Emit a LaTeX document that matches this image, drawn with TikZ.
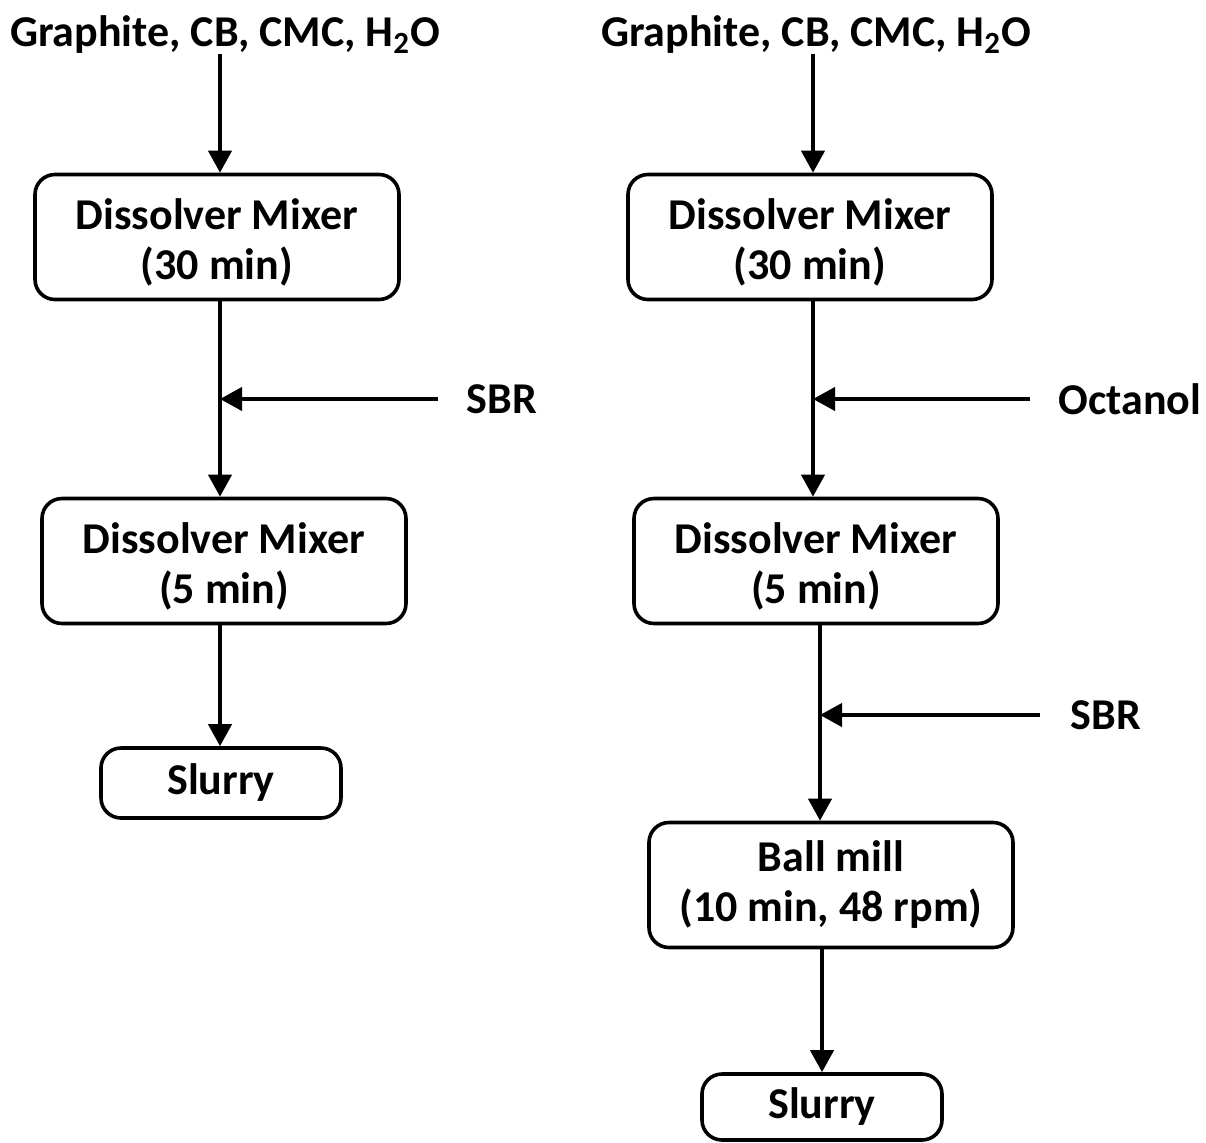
\documentclass[tikz,border=0pt]{standalone}
\usepackage{fontspec}
\setmainfont{Carlito}
\usetikzlibrary{arrows.meta}

\begin{document}
\begin{tikzpicture}[x=0.5pt, y=-0.5pt,
  box/.style={draw, line width=1.8pt, rounded corners=10pt, align=center,
    minimum width=182pt, minimum height=62.5pt, inner sep=0pt},
  mixer/.style={box, text height=46pt},
  slurry/.style={minimum width=120pt, minimum height=35pt},
  flow/.style={line width=2pt, -{Triangle[width=11.5pt, length=11pt]}},
  every node/.style={inner sep=0pt}]

  \fontsize{22}{25}\selectfont\bfseries

  \useasboundingbox (0,0) rectangle (1206,1142);

  % main lines
  \coordinate (lA) at (220,0);
  \coordinate (lB) at (813,0);
  \coordinate (lC) at (820,0);
  \coordinate (lD) at (822,0);

  % left route
  \node (srcA) at (225,35) {Graphite, CB, CMC, H\textsubscript{2}O};
  \node[mixer] (mixA1) at (217,237) {Dissolver Mixer\\(30 min)};
  \node[mixer] (mixA2) at (224,561) {Dissolver Mixer\\(5 min)};
  \node[box, slurry] (slurA) at (221,783) {Slurry};
  \node (sbrA) at (502,399) {SBR};
  \coordinate (inA) at (438,399);

  \draw[flow] (srcA.south -| lA) -- (mixA1.north -| lA);
  \draw[flow] (mixA1.south -| lA) -- (mixA2.north -| lA);
  \draw[flow] (inA) -- (inA -| lA);
  \draw[flow] (mixA2.south -| lA) -- (slurA.north -| lA);

  % right route
  \node (srcB) at (816,35) {Graphite, CB, CMC, H\textsubscript{2}O};
  \node[mixer] (mixB1) at (810,237) {Dissolver Mixer\\(30 min)};
  \node[mixer] (mixB2) at (816,561) {Dissolver Mixer\\(5 min)};
  \node[box] (millB) at (831,885) {Ball mill\\(10 min, 48 rpm)};
  \node[box, slurry, minimum height=33pt] (slurB) at (822,1107) {Slurry};
  \node (octB) at (1130,399) {Octanol};
  \node (sbrB) at (1106,715) {SBR};
  \coordinate (inB) at (1030,399);
  \coordinate (inC) at (1040,715);

  \draw[flow] (srcB.south -| lB) -- (mixB1.north -| lB);
  \draw[flow] (mixB1.south -| lB) -- (mixB2.north -| lB);
  \draw[flow] (inB) -- (inB -| lB);
  \draw[flow] (mixB2.south -| lC) -- (millB.north -| lC);
  \draw[flow] (inC) -- (inC -| lC);
  \draw[flow] (millB.south -| lD) -- (slurB.north -| lD);

\end{tikzpicture}
\end{document}
